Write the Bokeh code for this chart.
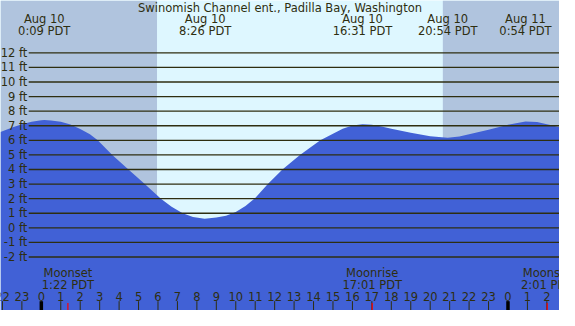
from bokeh.plotting import figure
from bokeh.models import Range1d
from bokeh.core.properties import value
from bokeh.embed import file_html
from bokeh.resources import INLINE

title_text = "Swinomish Channel ent., Padilla Bay, Washington"

# tide curve (hours since Aug 10 00:00 PDT, feet)
tide_hours = [-2.1, -2, -1.5, -1, -0.5, 0, 0.15, 0.5, 1, 1.5, 2, 2.5, 2.9, 3.65, 4.48, 5.32,
              6.15, 6.7, 7.27, 7.8, 8.4, 9.0, 9.5, 10.0, 10.5, 11.0, 11.65, 12.4, 13.3, 14.35,
              15.0, 15.5, 16.0, 16.52, 17.0, 17.5, 18.0, 19.0, 20.0, 20.9, 21.5, 22.0, 23.0,
              24.0, 24.9, 25.5, 26.0, 26.65]
tide_feet = [6.57, 6.62, 6.88, 7.1, 7.27, 7.37, 7.39, 7.36, 7.27, 7.08, 6.78, 6.42, 6.0, 5.0,
             4.0, 3.0, 2.0, 1.45, 1.0, 0.75, 0.63, 0.7, 0.83, 1.08, 1.5, 2.05, 3.0, 4.0, 5.0,
             6.0, 6.45, 6.8, 7.02, 7.11, 7.07, 6.95, 6.8, 6.52, 6.28, 6.17, 6.27, 6.41, 6.72,
             7.07, 7.3, 7.25, 7.11, 6.9]

extreme_hours = [0.15, 8.43, 16.52, 20.9, 24.9]
extreme_dates = ["Aug 10", "Aug 10", "Aug 10", "Aug 10", "Aug 11"]
extreme_times = ["0:09 PDT", "8:26 PDT", "16:31 PDT", "20:54 PDT", "0:54 PDT"]

sunrise_hour = 5.95
sunset_hour = 20.65

level_feet = [-2, -1, 0, 1, 2, 3, 4, 5, 6, 7, 8, 9, 10, 11, 12]
level_labels = ["-2 ft", "-1 ft", "0 ft", "1 ft", "2 ft", "3 ft", "4 ft", "5 ft", "6 ft",
                "7 ft", "8 ft", "9 ft", "10 ft", "11 ft", "12 ft"]

hour_ticks = list(range(-2, 27))
hour_labels = ["22", "23", "0", "1", "2", "3", "4", "5", "6", "7", "8", "9", "10", "11", "12",
               "13", "14", "15", "16", "17", "18", "19", "20", "21", "22", "23", "0", "1", "2"]
midnight_hours = [0, 24]

moon_hours = [1.367, 17.017, 26.017]
moon_events = ["Moonset", "Moonrise", "Moonset"]
moon_times = ["1:22 PDT", "17:01 PDT", "2:01 PDT"]

X0, X1 = -2.1, 26.65
Y0, Y1 = -5.67, 15.59

NIGHT = "#b0c4de"
DAY = "#def7ff"
WATER = "#4161d6"
INK = "#2e2e10"
FONT = value("DejaVu Sans")
FS = "11.5px"

p = figure(width=559, height=310, output_backend="svg", toolbar_location=None,
           x_range=Range1d(X0, X1), y_range=Range1d(Y0, Y1), min_border=0)
p.axis.visible = False
p.grid.visible = False
p.outline_line_color = None
p.background_fill_color = DAY
p.border_fill_color = DAY

# night shading
p.quad(left=[X0, sunset_hour], right=[sunrise_hour, X1], bottom=Y0, top=Y1,
       fill_color=NIGHT, line_color=None)

# tide
p.varea(x=tide_hours, y1=Y0 - 1, y2=tide_feet, fill_color=WATER)

# level lines
p.segment(x0=-0.65, x1=X1 + 1, y0=level_feet, y1=level_feet, line_color=INK, line_width=1.3)
p.text(x=-0.72, y=level_feet, text=level_labels, text_align="right", text_baseline="middle",
       text_font=FONT, text_font_size=FS, text_color=INK)

# title and extremes
p.text(x=[(X0 + X1) / 2], y=[15.1], text=[title_text], text_align="center",
       text_baseline="middle", text_font=FONT, text_font_size=FS, text_color=INK)
p.text(x=extreme_hours, y=14.3, text=extreme_dates, text_align="center",
       text_baseline="middle", text_font=FONT, text_font_size=FS, text_color=INK)
p.text(x=extreme_hours, y=13.48, text=extreme_times, text_align="center",
       text_baseline="middle", text_font=FONT, text_font_size=FS, text_color=INK)

# hour ticks
p.segment(x0=hour_ticks, x1=hour_ticks, y0=-5.03, y1=Y0 - 1, line_color=INK, line_width=1)
p.text(x=hour_ticks, y=-4.7, text=hour_labels, text_align="center", text_baseline="middle",
       text_font=FONT, text_font_size=FS, text_color=INK)
p.segment(x0=midnight_hours, x1=midnight_hours, y0=-5.03, y1=Y0 - 1, line_color="#000000",
          line_width=3.5)

# moon events
p.segment(x0=moon_hours, x1=moon_hours, y0=-5.15, y1=Y0 - 1, line_color="#ff0000", line_width=1.2)
p.text(x=moon_hours, y=-3.12, text=moon_events, text_align="center", text_baseline="middle",
       text_font=FONT, text_font_size=FS, text_color=INK)
p.text(x=moon_hours, y=-3.9, text=moon_times, text_align="center", text_baseline="middle",
       text_font=FONT, text_font_size=FS, text_color=INK)

open("out.html", "w").write(file_html(p, INLINE))
